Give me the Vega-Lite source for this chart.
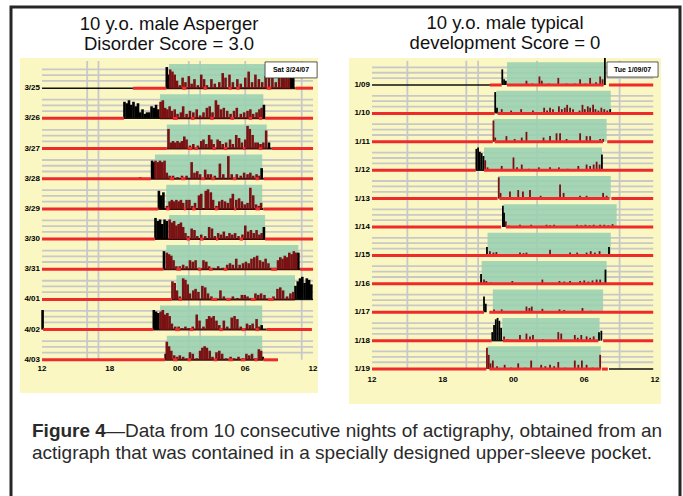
{
"$schema":"https://vega.github.io/schema/vega-lite/v6.json",
"width":683,"height":496,
"autosize":{"type":"fit","contains":"padding"},
"padding":{"left":11,"top":7,"right":3,"bottom":-4},
"background":"#ffffff",
"config":{"view":{"stroke":"#262626","strokeWidth":3,"fill":"#ffffff"}},
"resolve":{"scale":{"x":"independent","y":"independent"}},
"datasets":{
"act":[
{"p":"L","r":1,"c":"w","x":[11.05,11.2,22.05,22.25],"t":[0.3,0.55,0.4,0.45]},
{"p":"L","r":1,"c":"s","x":[11.35,11.55,11.75,11.95,12.2,12.45,12.7,13.0,13.25,13.5,13.8,14.1,14.35,14.6,15.0,15.3,15.7,16.0,16.25,16.6,16.9,17.3,17.6,18.0,18.3,18.6,18.9,19.2,19.5,19.8,20.1,20.4,20.7,21.0,21.25,21.45,21.65,21.85],"t":[0.38,0.45,0.55,0.75,0.9,0.65,0.8,0.6,0.85,0.7,0.9,0.55,0.7,0.9,0.7,0.85,0.8,0.5,0.65,0.55,0.8,0.7,0.85,0.65,0.45,0.8,0.55,0.7,0.8,0.6,0.5,0.65,0.8,0.5,0.45,0.45,0.45,0.45]},
{"p":"L","r":2,"c":"w","x":[7.3,7.5,7.7,7.9,8.1,8.3,8.5,8.7,8.9,9.1,9.3,9.5,9.7,9.9,10.1,10.3,19.65],"t":[1.45,1.5,1.4,1.55,1.45,1.6,1.5,1.8,1.7,1.85,1.8,1.8,1.6,1.65,1.55,1.7,1.55]},
{"p":"L","r":2,"c":"s","x":[10.5,10.7,10.9,11.1,11.3,11.5,11.75,12.0,12.3,12.5,12.8,13.1,13.4,13.7,14.0,14.3,14.6,14.85,15.1,15.4,15.6,15.85,16.1,16.4,16.7,17.0,17.25,17.6,17.9,18.2,18.45,18.7,19.0,19.25,19.45],"t":[1.45,1.4,1.65,1.7,1.6,1.75,1.7,1.85,1.8,1.6,1.85,1.75,1.8,1.7,1.9,1.8,1.65,1.6,1.8,1.4,1.55,1.7,1.65,1.75,1.85,1.75,1.65,1.85,1.8,1.75,1.7,1.85,1.8,1.7,1.65]},
{"p":"L","r":3,"c":"w","x":[20.1],"t":[2.8]},
{"p":"L","r":3,"c":"s","x":[11.2,11.4,11.6,11.8,12.0,12.2,12.4,12.6,12.8,13.1,13.4,13.8,14.1,14.3,14.55,14.8,15.0,15.2,15.55,15.75,16.0,16.3,16.65,16.9,17.2,17.45,17.7,18.0,18.2,18.4,18.65,18.9,19.1,19.35,19.6,19.85],"t":[2.35,2.8,2.75,2.8,2.75,2.8,2.75,2.6,2.7,2.9,2.85,2.9,2.75,2.7,2.85,2.55,2.7,2.85,2.7,2.75,2.85,2.8,2.7,2.85,2.55,2.65,2.8,2.7,2.25,2.35,2.55,2.8,2.8,2.85,2.8,2.4]},
{"p":"L","r":4,"c":"w","x":[8.7,9.75,9.9,19.45],"t":[3.95,3.4,3.45,3.65]},
{"p":"L","r":4,"c":"s","x":[10.05,10.25,10.45,10.65,10.85,11.05,11.3,11.6,12.0,12.4,12.8,13.25,13.5,13.75,14.0,14.45,14.7,14.95,15.3,15.75,16.05,16.5,16.8,17.25,17.6,17.9,18.2,18.45,18.7,19.0,19.25],"t":[3.4,3.45,3.4,3.45,3.4,3.8,3.9,3.9,3.95,3.9,3.9,3.45,3.8,3.75,3.85,3.7,3.85,3.85,3.9,3.5,3.85,3.25,3.85,3.85,3.9,3.8,3.85,3.8,3.9,3.85,3.9]},
{"p":"L","r":5,"c":"w","x":[10.35,10.55,10.75],"t":[4.4,4.55,4.45]},
{"p":"L","r":5,"c":"s","x":[11.05,11.3,11.5,11.7,11.9,12.1,12.3,12.5,12.8,13.05,13.3,13.55,13.9,14.1,14.5,14.7,14.95,15.15,15.45,15.7,15.95,16.2,16.45,16.7,16.9,17.2,17.45,17.7,17.95,18.2,18.45,18.7,18.95,19.2,19.4],"t":[4.9,4.75,4.7,4.75,4.7,4.75,4.7,4.8,4.7,4.7,4.9,4.8,4.55,4.5,4.4,4.35,4.45,4.7,4.9,4.75,4.7,4.75,4.8,4.65,4.5,4.7,4.65,4.75,4.85,4.8,4.3,4.55,4.85,4.9,4.8]},
{"p":"L","r":6,"c":"w","x":[10.05,10.25,10.45,10.65,10.85,11.05,19.65],"t":[5.3,5.4,5.35,5.5,5.35,5.4,5.6]},
{"p":"L","r":6,"c":"s","x":[11.3,11.5,11.7,11.9,12.1,12.3,12.5,12.7,12.95,13.25,13.5,13.75,14.1,14.45,14.8,15.05,15.3,15.6,15.85,16.1,16.35,16.6,16.85,17.1,17.4,17.75,18.0,18.25,18.5,18.75,19.0,19.25,19.45],"t":[5.35,5.45,5.4,5.55,5.5,5.45,5.6,5.8,5.9,5.65,5.7,5.9,5.85,5.9,5.6,5.65,5.9,5.8,5.85,5.75,5.9,5.8,5.85,5.8,5.9,5.85,5.55,5.75,5.7,5.8,5.7,5.85,5.8]},
{"p":"L","r":7,"c":"w","x":[10.8,22.7],"t":[6.4,6.45]},
{"p":"L","r":7,"c":"s","x":[11.05,11.25,11.45,11.65,11.9,12.2,12.5,12.8,13.1,13.35,13.6,13.9,14.3,14.55,14.8,15.2,15.6,16.0,16.4,16.65,16.9,17.2,17.5,17.8,18.05,18.3,18.55,18.8,19.05,19.3,19.55,19.8,20.05,20.3,20.6,20.9,21.1,21.3,21.5,21.7,21.9,22.1,22.3,22.5],"t":[6.45,6.5,6.55,6.7,6.9,6.9,6.85,6.9,6.7,6.75,6.7,6.95,6.7,6.75,6.9,6.95,6.9,6.95,6.85,6.8,6.85,6.65,6.85,6.8,6.75,6.8,6.65,6.6,6.55,6.7,6.75,6.65,6.8,6.95,6.95,6.7,6.6,6.65,6.55,6.6,6.45,6.5,6.4,6.45]},
{"p":"L","r":8,"c":"w","x":[22.45,22.65,22.85,23.05,23.25,23.45,23.65,23.85],"t":[7.55,7.4,7.3,7.25,7.45,7.3,7.35,7.5]},
{"p":"L","r":8,"c":"s","x":[11.55,11.75,11.95,12.2,12.5,12.7,12.9,13.1,13.4,13.6,13.85,14.2,14.45,14.7,15.0,15.4,15.8,16.1,16.5,16.9,17.3,17.7,17.95,18.2,18.5,18.9,19.15,19.4,19.7,20.1,20.5,20.85,21.1,21.35,21.7,22.0,22.25],"t":[7.4,7.45,7.7,7.9,7.3,7.35,7.5,7.8,7.7,7.65,7.75,7.55,7.6,7.8,7.9,7.95,7.7,7.9,7.95,7.9,7.95,7.85,7.85,7.9,7.95,7.8,7.85,7.8,7.85,7.95,7.9,7.65,7.6,7.7,7.9,7.8,7.75]},
{"p":"L","r":9,"c":"w","x":[0.05,9.9,10.1,10.3,19.45],"t":[8.35,8.35,8.4,8.45,8.85]},
{"p":"L","r":9,"c":"s","x":[10.5,10.7,10.9,11.1,11.3,11.5,11.8,12.1,12.4,12.7,13.0,13.35,13.7,13.95,14.3,14.6,14.8,15.0,15.2,15.45,15.7,16.1,16.4,16.8,17.05,17.3,17.6,17.9,18.15,18.4,18.65,19.0,19.25],"t":[8.4,8.35,8.5,8.45,8.55,8.8,8.9,8.9,8.95,8.9,8.95,8.9,8.5,8.7,8.9,8.65,8.55,8.6,8.55,8.7,8.85,8.7,8.9,8.6,8.55,8.65,8.9,8.95,8.8,8.85,8.8,8.65,8.9]},
{"p":"L","r":10,"c":"w","x":[10.95,19.55],"t":[9.8,9.9]},
{"p":"L","r":10,"c":"s","x":[11.05,11.25,11.45,11.7,11.95,12.2,12.5,12.8,13.1,13.35,13.7,14.0,14.2,14.4,14.6,14.85,15.1,15.45,15.7,15.95,16.3,16.7,17.0,17.4,17.8,18.1,18.35,18.6,18.9,19.2,19.4],"t":[9.4,9.55,9.7,9.85,9.9,9.85,9.9,9.95,9.75,9.8,9.95,9.7,9.6,9.55,9.6,9.7,9.9,9.75,9.7,9.8,9.95,9.9,9.95,9.9,9.95,9.8,9.85,9.8,9.95,9.65,9.7]},
{"p":"R","r":1,"c":"w","x":[11.05,11.2,11.35,19.75],"t":[0.45,0.8,0.85,0.05]},
{"p":"R","r":1,"c":"s","x":[13.1,13.6,14.2,14.4,15.0,15.8,16.5,17.2,17.65,18.1,18.5,19.0,19.35,19.55],"t":[0.85,0.95,0.7,0.85,0.95,0.75,0.95,0.95,0.8,0.95,0.75,0.9,0.7,0.8]},
{"p":"R","r":2,"c":"w","x":[10.45,10.6,20.2],"t":[1.25,1.8,1.85]},
{"p":"R","r":2,"c":"s","x":[11.0,11.4,11.8,12.2,12.65,13.1,13.65,14.1,14.6,14.85,15.1,15.35,15.6,15.85,16.1,16.35,16.55,16.8,17.05,17.35,17.6,17.85,18.05,18.3,18.5,18.75,18.95,19.2,19.45,19.7,19.95],"t":[1.85,1.95,1.9,1.95,1.85,1.95,1.9,1.95,1.8,1.9,1.8,1.85,1.95,1.75,1.85,1.8,1.7,1.8,1.85,1.95,1.9,1.7,1.85,1.75,1.8,1.7,1.85,1.9,1.8,1.85,1.9]},
{"p":"R","r":3,"c":"s","x":[10.3,10.45,11.4,12.1,12.7,13.1,14.55,15.1,15.65,15.95,16.5,17.65,18.2,18.5,19.35,19.6],"t":[2.25,2.85,2.8,2.9,2.85,2.65,2.85,2.8,2.7,2.7,2.9,2.7,2.8,2.8,2.9,2.9]},
{"p":"R","r":4,"c":"w","x":[8.85,9.0,9.15,9.3,9.45,19.5],"t":[3.25,3.2,3.35,3.4,3.5,3.45]},
{"p":"R","r":4,"c":"s","x":[9.6,9.8,11.0,12.0,12.3,12.7,13.3,14.15,15.1,15.85,16.6,17.5,18.2,18.5,18.8,19.05,19.3],"t":[3.65,3.9,3.85,3.55,3.9,3.8,3.95,3.9,3.9,3.9,3.95,3.85,3.8,3.85,3.8,3.7,3.8]},
{"p":"R","r":5,"c":"s","x":[10.75,10.9,11.7,12.4,12.8,13.4,14.3,15.95,16.25,17.65,18.2,18.9,19.6,19.9],"t":[4.25,4.8,4.75,4.7,4.75,4.7,4.9,4.5,4.8,4.9,4.9,4.95,4.8,4.9]},
{"p":"R","r":6,"c":"w","x":[11.1,11.2],"t":[5.25,5.5]},
{"p":"R","r":6,"c":"s","x":[11.35,11.6,12.55,13.5,14.8,15.1,15.45,17.4,17.75,18.1,18.45,18.8,19.35,19.7,20.05,20.4],"t":[5.8,5.95,5.92,5.92,5.92,5.94,5.92,5.92,5.94,5.92,5.94,5.92,5.92,5.92,5.94,5.9]},
{"p":"R","r":7,"c":"w","x":[9.75,20.1],"t":[6.7,6.7]},
{"p":"R","r":7,"c":"s","x":[10.0,10.3,10.55,12.55,12.85,13.1,15.1,16.8,17.4,18.2,18.55,18.9,19.3],"t":[6.85,6.9,6.88,6.9,6.92,6.9,6.8,6.9,6.9,6.9,6.85,6.9,6.85]},
{"p":"R","r":8,"c":"w","x":[9.25,19.8],"t":[7.65,7.5]},
{"p":"R","r":8,"c":"s","x":[9.5,9.7,10.1,11.9,14.45,15.9,16.3,16.8,17.65,18.0,18.35,18.7,19.05,19.35],"t":[7.85,7.9,7.95,7.9,7.85,7.9,7.92,7.9,7.9,7.88,7.92,7.88,7.85,7.85]},
{"p":"R","r":9,"c":"w","x":[9.5,9.65],"t":[8.45,8.7]},
{"p":"R","r":9,"c":"s","x":[10.35,11.0,13.1,13.35,13.55,14.45,15.9,16.3,17.85,18.6],"t":[8.9,8.9,8.8,8.85,8.8,8.88,8.9,8.92,8.85,8.95]},
{"p":"R","r":10,"c":"w","x":[10.2,10.35,10.5,10.65,10.8,10.95,19.25,19.45],"t":[9.7,9.45,9.25,9.2,9.3,9.55,9.7,9.65]},
{"p":"R","r":10,"c":"s","x":[11.2,11.5,12.55,13.1,13.4,13.65,14.5,15.8,16.05,17.2,17.45,17.75,18.2,18.5,18.8],"t":[9.85,9.95,9.8,9.75,9.85,9.8,9.95,9.7,9.75,9.8,9.9,9.8,9.85,9.9,9.85]},
{"p":"R","r":11,"c":"s","x":[9.75,9.9,10.05,10.25,10.6,11.25,11.8,12.4,13.0,13.5,14.35,14.7,15.1,15.45,15.8,16.4,17.2,17.5,17.8,18.2,18.7,19.35],"t":[10.25,10.5,10.8,10.7,10.9,10.85,10.95,10.8,10.95,10.7,10.85,10.9,10.85,10.9,10.75,10.95,10.7,10.85,10.7,10.85,10.95,10.5]}
],
"seg":[
{"p":"L","r":1,"k":"red","a":[8.05,22.45,12.4,14.3,16.5,17.2,19.9],"b":[11.0,24,12.8,14.6,16.8,17.5,20.3]},
{"p":"L","r":1,"k":"blk","a":[0],"b":[8.05]},
{"p":"L","r":1,"k":"dk","a":[11.0],"b":[22.45]},
{"p":"L","r":2,"k":"red","a":[0,19.75,11.6,13.2,14.9,16.7,18.3,19.2],"b":[7.25,24,12.0,13.5,15.2,17.0,18.6,19.5]},
{"p":"L","r":2,"k":"blk","a":[7.25],"b":[10.45]},
{"p":"L","r":2,"k":"dk","a":[10.45],"b":[19.75]},
{"p":"L","r":3,"k":"red","a":[0,20.35,12.9,13.5,15.1,16.1,17.8,19.2],"b":[11.05,24,13.3,13.8,15.4,16.4,18.0,19.5]},
{"p":"L","r":3,"k":"dk","a":[11.05],"b":[20.35]},
{"p":"L","r":4,"k":"red","a":[0,19.65,11.3,12.3,14.1,15.0,16.9,18.9],"b":[9.65,24,11.7,12.7,14.4,15.3,17.2,19.2]},
{"p":"L","r":4,"k":"dk","a":[9.65],"b":[19.65]},
{"p":"L","r":5,"k":"red","a":[0,19.6,11.0,12.55,13.3,15.3,17.0,18.9],"b":[10.3,24,11.3,12.75,13.6,15.6,17.2,19.3]},
{"p":"L","r":5,"k":"dk","a":[10.3],"b":[19.6]},
{"p":"L","r":6,"k":"red","a":[0,19.75,12.8,14.0,15.4,17.5],"b":[10.0,24,13.1,14.3,15.6,17.8]},
{"p":"L","r":6,"k":"dk","a":[10.0],"b":[19.75]},
{"p":"L","r":7,"k":"red","a":[0,22.85,11.9,13.8,14.8,16.1,20.3],"b":[10.75,24,12.3,14.1,15.1,16.4,20.8]},
{"p":"L","r":7,"k":"dk","a":[10.75],"b":[22.85]},
{"p":"L","r":8,"k":"red","a":[0,12.1,15.0,16.3,18.5,20.0],"b":[11.5,12.4,15.5,16.7,18.9,20.5]},
{"p":"L","r":8,"k":"dk","a":[11.5],"b":[22.4]},
{"p":"L","r":8,"k":"blk","a":[22.4],"b":[24]},
{"p":"L","r":9,"k":"red","a":[0.1,19.9,11.8,13.1,15.7,17.7,18.9],"b":[9.85,23.9,12.2,13.4,16.0,18.0,19.2]},
{"p":"L","r":9,"k":"dk","a":[9.85],"b":[19.9]},
{"p":"L","r":10,"k":"red","a":[0,19.6,11.6,12.9,15.2,16.5,17.6,18.8],"b":[10.9,20.9,12.0,13.2,15.5,16.9,18.0,19.1]},
{"p":"L","r":10,"k":"dk","a":[10.9],"b":[19.6]},
{"p":"R","r":1,"k":"blk","a":[0],"b":[10.0]},
{"p":"R","r":1,"k":"red","a":[10.0,11.45,20.1],"b":[11.0,19.65,23.85]},
{"p":"R","r":2,"k":"red","a":[0,10.65],"b":[10.4,23.85]},
{"p":"R","r":3,"k":"red","a":[0,10.4,19.95],"b":[10.25,19.6,23.85]},
{"p":"R","r":4,"k":"red","a":[0,9.5],"b":[8.8,23.85]},
{"p":"R","r":4,"k":"blk","a":[8.8],"b":[9.5]},
{"p":"R","r":5,"k":"red","a":[0,10.8,20.3],"b":[10.65,20.15,23.85]},
{"p":"R","r":6,"k":"red","a":[0,11.35],"b":[10.95,23.85]},
{"p":"R","r":7,"k":"red","a":[0],"b":[23.85]},
{"p":"R","r":8,"k":"red","a":[0],"b":[23.85]},
{"p":"R","r":9,"k":"red","a":[0,9.95],"b":[9.5,23.85]},
{"p":"R","r":10,"k":"red","a":[0,11.1,19.6],"b":[10.15,19.2,23.85]},
{"p":"R","r":10,"k":"blk","a":[10.15],"b":[11.1]},
{"p":"R","r":11,"k":"red","a":[0,9.95,19.5],"b":[9.7,19.4,20.0]},
{"p":"R","r":11,"k":"blk","a":[20.1],"b":[23.85]}
],
"sleep":[
{"p":"L","r":1,"top":0.2,"a":11.25,"b":22.0},
{"p":"L","r":2,"top":1.2,"a":10.45,"b":19.6},
{"p":"L","r":3,"top":2.2,"a":11.05,"b":19.9},
{"p":"L","r":4,"top":3.2,"a":10.0,"b":19.5},
{"p":"L","r":5,"top":4.2,"a":11.0,"b":19.5},
{"p":"L","r":6,"top":5.2,"a":11.25,"b":19.75},
{"p":"L","r":7,"top":6.2,"a":11.0,"b":22.7},
{"p":"L","r":8,"top":7.2,"a":11.9,"b":22.4},
{"p":"L","r":9,"top":8.2,"a":10.45,"b":19.5},
{"p":"L","r":10,"top":9.2,"a":11.05,"b":19.5},
{"p":"R","r":1,"top":0.2,"a":11.45,"b":19.8},
{"p":"R","r":2,"top":1.2,"a":10.55,"b":20.25},
{"p":"R","r":3,"top":2.2,"a":10.3,"b":19.9},
{"p":"R","r":4,"top":3.2,"a":9.5,"b":19.5},
{"p":"R","r":5,"top":4.2,"a":10.7,"b":20.25},
{"p":"R","r":6,"top":5.2,"a":11.15,"b":20.75},
{"p":"R","r":7,"top":6.2,"a":9.8,"b":20.25},
{"p":"R","r":8,"top":7.2,"a":9.3,"b":19.9},
{"p":"R","r":9,"top":8.2,"a":10.25,"b":19.6},
{"p":"R","r":10,"top":9.2,"a":11.05,"b":19.3},
{"p":"R","r":11,"top":10.2,"a":9.8,"b":19.4}
],
"hgrid":[
{"p":"L","y":[0.38,0.57,0.76,1.38,1.57,1.76,2.38,2.57,2.76,3.38,3.57,3.76,4.38,4.57,4.76,5.38,5.57,5.76,6.38,6.57,6.76,7.38,7.57,7.76,8.38,8.57,8.76,9.38,9.57,9.76]},
{"p":"R","y":[0.38,0.57,0.76,1.38,1.57,1.76,2.38,2.57,2.76,3.38,3.57,3.76,4.38,4.57,4.76,5.38,5.57,5.76,6.38,6.57,6.76,7.38,7.57,7.76,8.38,8.57,8.76,9.38,9.57,9.76,10.38,10.57,10.76]}
],
"vgrid":[
{"p":"L","y0":0.1,"y1":10,"h":[4,5,13,14,18,23]},
{"p":"R","y0":0.15,"y1":11,"h":[3,8,9,14,21]}
],
"rowlab":[
{"p":"L","r":1,"lab":"3/25"},{"p":"L","r":2,"lab":"3/26"},{"p":"L","r":3,"lab":"3/27"},{"p":"L","r":4,"lab":"3/28"},{"p":"L","r":5,"lab":"3/29"},{"p":"L","r":6,"lab":"3/30"},{"p":"L","r":7,"lab":"3/31"},{"p":"L","r":8,"lab":"4/01"},{"p":"L","r":9,"lab":"4/02"},{"p":"L","r":10,"lab":"4/03"},
{"p":"R","r":1,"lab":"1/09"},{"p":"R","r":2,"lab":"1/10"},{"p":"R","r":3,"lab":"1/11"},{"p":"R","r":4,"lab":"1/12"},{"p":"R","r":5,"lab":"1/13"},{"p":"R","r":6,"lab":"1/14"},{"p":"R","r":7,"lab":"1/15"},{"p":"R","r":8,"lab":"1/16"},{"p":"R","r":9,"lab":"1/17"},{"p":"R","r":10,"lab":"1/18"},{"p":"R","r":11,"lab":"1/19"}
],
"ticks":[
{"h":0,"lab":"12"},{"h":6,"lab":"18"},{"h":12,"lab":"00"},{"h":18,"lab":"06"},{"h":24,"lab":"12"}
]
},
"layer":[
{"layer":[
{"data":{"values":[{}]},"mark":{"type":"rect","fill":"#faf7c3"},"encoding":{"x":{"datum":-1.95,"type":"quantitative","scale":{"domain":[-1.95,24.44],"range":[9,307],"zero":false,"nice":false},"axis":null},"x2":{"datum":24.44},"y":{"datum":0,"type":"quantitative","scale":{"domain":[0,11.1],"range":[51,386],"zero":false,"nice":false},"axis":null},"y2":{"datum":11.1}}},
{"data":{"name":"hgrid"},"transform":[{"filter":"datum.p==='L'"},{"flatten":["y"]}],"mark":{"type":"rule","color":"#c8c8c8","strokeWidth":1.8},"encoding":{"x":{"datum":0,"type":"quantitative","axis":null},"x2":{"datum":24},"y":{"field":"y","type":"quantitative","axis":null}}},
{"data":{"name":"vgrid"},"transform":[{"filter":"datum.p==='L'"},{"flatten":["h"]}],"mark":{"type":"rule","color":"#c8c8c8","strokeWidth":1.8},"encoding":{"x":{"field":"h","type":"quantitative","axis":null},"y":{"field":"y0","type":"quantitative","axis":null},"y2":{"field":"y1"}}},
{"data":{"name":"sleep"},"transform":[{"filter":"datum.p==='L'"}],"mark":{"type":"rect","fill":"#98d0b0","opacity":0.88},"encoding":{"x":{"field":"a","type":"quantitative","axis":null},"x2":{"field":"b"},"y":{"field":"top","type":"quantitative","axis":null},"y2":{"field":"r"}}},
{"data":{"name":"seg"},"transform":[{"filter":"datum.p==='L' && datum.k==='dk'"},{"flatten":["a","b"]}],"mark":{"type":"rule","color":"#3d0808","strokeWidth":2},"encoding":{"x":{"field":"a","type":"quantitative","axis":null},"x2":{"field":"b"},"y":{"field":"r","type":"quantitative","axis":null}}},
{"data":{"name":"act"},"transform":[{"filter":"datum.p==='L'"},{"flatten":["x","t"]}],"mark":{"type":"rule","strokeWidth":2.6},"encoding":{"x":{"field":"x","type":"quantitative","axis":null},"y":{"field":"t","type":"quantitative","axis":null},"y2":{"field":"r"},"color":{"field":"c","type":"nominal","scale":{"domain":["w","s"],"range":["#000000","#7a1214"]},"legend":null}}},
{"data":{"name":"seg"},"transform":[{"filter":"datum.p==='L' && datum.k==='red'"},{"flatten":["a","b"]}],"mark":{"type":"rule","color":"#ee2a2a","strokeWidth":3},"encoding":{"x":{"field":"a","type":"quantitative","axis":null},"x2":{"field":"b"},"y":{"field":"r","type":"quantitative","axis":null}}},
{"data":{"name":"seg"},"transform":[{"filter":"datum.p==='L' && datum.k==='blk'"},{"flatten":["a","b"]}],"mark":{"type":"rule","color":"#111111","strokeWidth":1.5},"encoding":{"x":{"field":"a","type":"quantitative","axis":null},"x2":{"field":"b"},"y":{"field":"r","type":"quantitative","axis":null}}},
{"data":{"values":[{}]},"mark":{"type":"rect","fill":"#ffffff","stroke":"#333333","strokeWidth":0.8},"encoding":{"x":{"datum":19.75,"type":"quantitative","axis":null},"x2":{"datum":24.36},"y":{"datum":0.13,"type":"quantitative","axis":null},"y2":{"datum":0.66}}},
{"data":{"values":[{"txt":"Sat 3/24/07"}]},"mark":{"type":"text","font":"Liberation Sans","fontSize":7,"fontWeight":"bold","color":"#000000","align":"center","baseline":"middle"},"encoding":{"x":{"datum":22.05,"type":"quantitative","axis":null},"y":{"datum":0.4,"type":"quantitative","axis":null},"text":{"field":"txt"}}},
{"data":{"name":"rowlab"},"transform":[{"filter":"datum.p==='L'"}],"mark":{"type":"text","font":"Liberation Sans","fontSize":8,"fontWeight":"bold","color":"#000000","align":"right","baseline":"middle"},"encoding":{"x":{"datum":-0.18,"type":"quantitative","axis":null},"y":{"field":"r","type":"quantitative","axis":null},"text":{"field":"lab"}}},
{"data":{"name":"ticks"},"mark":{"type":"text","font":"Liberation Sans","fontSize":8,"fontWeight":"bold","color":"#000000","align":"center","baseline":"middle"},"encoding":{"x":{"field":"h","type":"quantitative","axis":null},"y":{"datum":10.3,"type":"quantitative","axis":null},"text":{"field":"lab"}}},
{"data":{"values":[{"txt":"10 y.o. male Asperger"}]},"mark":{"type":"text","font":"Liberation Sans","fontSize":18.5,"color":"#111111","align":"center","baseline":"alphabetic"},"encoding":{"x":{"datum":11.25,"type":"quantitative","axis":null},"y":{"datum":-0.944,"type":"quantitative","axis":null},"text":{"field":"txt"}}},
{"data":{"values":[{"txt":"Disorder Score = 3.0"}]},"mark":{"type":"text","font":"Liberation Sans","fontSize":18.5,"color":"#111111","align":"center","baseline":"alphabetic"},"encoding":{"x":{"datum":11.25,"type":"quantitative","axis":null},"y":{"datum":-0.28,"type":"quantitative","axis":null},"text":{"field":"txt"}}},
{"data":{"values":[{"txt":"Figure 4"}]},"mark":{"type":"text","font":"Liberation Sans","fontSize":19,"fontWeight":"bold","color":"#2a2a2a","align":"left","baseline":"alphabetic"},"encoding":{"x":{"datum":-0.886,"type":"quantitative","axis":null},"y":{"datum":12.545,"type":"quantitative","axis":null},"text":{"field":"txt"}}},
{"data":{"values":[{"txt":"—Data from 10 consecutive nights of actigraphy, obtained from an"}]},"mark":{"type":"text","font":"Liberation Sans","fontSize":19,"color":"#2a2a2a","align":"left","baseline":"alphabetic"},"encoding":{"x":{"datum":5.66,"type":"quantitative","axis":null},"y":{"datum":12.545,"type":"quantitative","axis":null},"text":{"field":"txt"}}},
{"data":{"values":[{"txt":"actigraph that was contained in a specially designed upper-sleeve pocket."}]},"mark":{"type":"text","font":"Liberation Sans","fontSize":19,"color":"#2a2a2a","align":"left","baseline":"alphabetic"},"encoding":{"x":{"datum":-0.886,"type":"quantitative","axis":null},"y":{"datum":13.287,"type":"quantitative","axis":null},"text":{"field":"txt"}}}
]},
{"layer":[
{"data":{"values":[{}]},"mark":{"type":"rect","fill":"#faf7c3"},"encoding":{"x":{"datum":-1.95,"type":"quantitative","scale":{"domain":[-1.95,24.51],"range":[338,650],"zero":false,"nice":false},"axis":null},"x2":{"datum":24.51},"y":{"datum":0.05,"type":"quantitative","scale":{"domain":[0.05,12.23],"range":[51,397],"zero":false,"nice":false},"axis":null},"y2":{"datum":12.23}}},
{"data":{"name":"hgrid"},"transform":[{"filter":"datum.p==='R'"},{"flatten":["y"]}],"mark":{"type":"rule","color":"#c8c8c8","strokeWidth":1.8},"encoding":{"x":{"datum":0,"type":"quantitative","axis":null},"x2":{"datum":23.85},"y":{"field":"y","type":"quantitative","axis":null}}},
{"data":{"name":"vgrid"},"transform":[{"filter":"datum.p==='R'"},{"flatten":["h"]}],"mark":{"type":"rule","color":"#c8c8c8","strokeWidth":1.8},"encoding":{"x":{"field":"h","type":"quantitative","axis":null},"y":{"field":"y0","type":"quantitative","axis":null},"y2":{"field":"y1"}}},
{"data":{"name":"sleep"},"transform":[{"filter":"datum.p==='R'"}],"mark":{"type":"rect","fill":"#98d0b0","opacity":0.88},"encoding":{"x":{"field":"a","type":"quantitative","axis":null},"x2":{"field":"b"},"y":{"field":"top","type":"quantitative","axis":null},"y2":{"field":"r"}}},
{"data":{"name":"act"},"transform":[{"filter":"datum.p==='R'"},{"flatten":["x","t"]}],"mark":{"type":"rule","strokeWidth":1.8},"encoding":{"x":{"field":"x","type":"quantitative","axis":null},"y":{"field":"t","type":"quantitative","axis":null},"y2":{"field":"r"},"color":{"field":"c","type":"nominal","scale":{"domain":["w","s"],"range":["#000000","#7a1214"]},"legend":null}}},
{"data":{"name":"seg"},"transform":[{"filter":"datum.p==='R' && datum.k==='red'"},{"flatten":["a","b"]}],"mark":{"type":"rule","color":"#ee2a2a","strokeWidth":3},"encoding":{"x":{"field":"a","type":"quantitative","axis":null},"x2":{"field":"b"},"y":{"field":"r","type":"quantitative","axis":null}}},
{"data":{"name":"seg"},"transform":[{"filter":"datum.p==='R' && datum.k==='blk'"},{"flatten":["a","b"]}],"mark":{"type":"rule","color":"#111111","strokeWidth":1.5},"encoding":{"x":{"field":"a","type":"quantitative","axis":null},"x2":{"field":"b"},"y":{"field":"r","type":"quantitative","axis":null}}},
{"data":{"values":[{}]},"mark":{"type":"rect","fill":"#ffffff","stroke":"#333333","strokeWidth":0.8},"encoding":{"x":{"datum":19.93,"type":"quantitative","axis":null},"x2":{"datum":24.26},"y":{"datum":0.19,"type":"quantitative","axis":null},"y2":{"datum":0.72}}},
{"data":{"values":[{"txt":"Tue 1/09/07"}]},"mark":{"type":"text","font":"Liberation Sans","fontSize":7,"fontWeight":"bold","color":"#000000","align":"center","baseline":"middle"},"encoding":{"x":{"datum":22.1,"type":"quantitative","axis":null},"y":{"datum":0.455,"type":"quantitative","axis":null},"text":{"field":"txt"}}},
{"data":{"name":"rowlab"},"transform":[{"filter":"datum.p==='R'"}],"mark":{"type":"text","font":"Liberation Sans","fontSize":8,"fontWeight":"bold","color":"#000000","align":"right","baseline":"middle"},"encoding":{"x":{"datum":-0.17,"type":"quantitative","axis":null},"y":{"field":"r","type":"quantitative","axis":null},"text":{"field":"lab"}}},
{"data":{"name":"ticks"},"mark":{"type":"text","font":"Liberation Sans","fontSize":8,"fontWeight":"bold","color":"#000000","align":"center","baseline":"middle"},"encoding":{"x":{"field":"h","type":"quantitative","axis":null},"y":{"datum":11.39,"type":"quantitative","axis":null},"text":{"field":"lab"}}},
{"data":{"values":[{"txt":"10 y.o. male typical"}]},"mark":{"type":"text","font":"Liberation Sans","fontSize":18.5,"color":"#111111","align":"center","baseline":"alphabetic"},"encoding":{"x":{"datum":11.28,"type":"quantitative","axis":null},"y":{"datum":-0.954,"type":"quantitative","axis":null},"text":{"field":"txt"}}},
{"data":{"values":[{"txt":"development Score = 0"}]},"mark":{"type":"text","font":"Liberation Sans","fontSize":18.5,"color":"#111111","align":"center","baseline":"alphabetic"},"encoding":{"x":{"datum":11.28,"type":"quantitative","axis":null},"y":{"datum":-0.25,"type":"quantitative","axis":null},"text":{"field":"txt"}}}
]}
]
}
